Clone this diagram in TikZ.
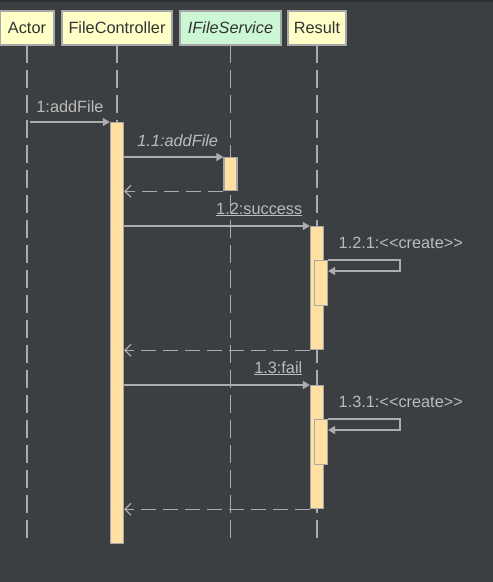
\documentclass[tikz,border=0pt]{standalone}
\usepackage{fontspec}
\setmainfont{Liberation Sans}
\usetikzlibrary{arrows.meta, positioning}
\definecolor{bgdark}{RGB}{60,63,65}
\definecolor{topband}{RGB}{47,49,52}
\definecolor{headfill}{RGB}{255,255,200}
\definecolor{ifacefill}{RGB}{204,247,213}
\definecolor{actfill}{RGB}{255,223,162}
\definecolor{edgegray}{RGB}{168,168,168}
\definecolor{linegray}{RGB}{172,172,172}
\definecolor{textgray}{RGB}{187,187,187}
\tikzstyle{seqdiag}=[x=1pt, y=-1pt, font=\fontsize{16.3}{19}\selectfont]
\tikzstyle{head}=[draw=edgegray, line width=1.2pt, fill=headfill, text=black!80, minimum height=34pt, inner xsep=0pt, outer sep=0pt]
\tikzstyle{lifeline}=[draw=linegray, line width=1.3pt, dash pattern=on 18pt off 7pt]
\tikzstyle{act}=[draw=edgegray, line width=1.2pt, fill=actfill, minimum width=13pt, inner sep=0pt]
\tikzstyle{msg}=[draw=linegray, line width=1.2pt, -{Triangle[length=7pt,width=8pt]}]
\tikzstyle{reply}=[draw=linegray, line width=1.2pt, dash pattern=on 15pt off 7pt, -{Straight Barb[length=6pt,width=12pt]}]
\tikzstyle{lbl}=[text=textgray, inner sep=0pt]

\begin{document}
\begin{tikzpicture}[seqdiag]
  \fill[bgdark] (0,0) rectangle (493,582);
  \fill[topband] (0,0) rectangle (493,2);
  \useasboundingbox (0,0) rectangle (493,582);
  \coordinate (bottom) at (0,545);
  % heads and lifelines
  \node[head, minimum width=54pt] (actor) at (27,28) {Actor};
  \node[head, minimum width=110pt] (ctrl) [right=8pt of actor] {FileController};
  \node[head, minimum width=101pt, fill=ifacefill] (svc) [right=8pt of ctrl] {\itshape IFileService};
  \node[head, minimum width=58pt] (res) [right=7pt of svc] {Result};
  \foreach \p in {actor, ctrl, svc, res}
    \draw[lifeline] (\p.south) -- (\p.south |- bottom);
  % activations
  \node[act, anchor=north, minimum height=421pt] (ctrlact) at (ctrl.south |- 0,122) {};
  \node[act, anchor=north, minimum height=33pt] (svcact) at (svc.south |- 0,157) {};
  \node[act, anchor=north, minimum height=123pt] (resact1) at (res.south |- 0,226) {};
  \node[act, anchor=north, minimum height=123pt] (resact2) at (res.south |- 0,385) {};
  \node[act, anchor=north west, xshift=4pt, minimum height=45pt] (sub1) at (resact1.west |- 0,260) {};
  \node[act, anchor=north west, xshift=4pt, minimum height=45pt] (sub2) at (resact2.west |- 0,419) {};
  \coordinate (loop1) at (400,271);
  \coordinate (loop2) at (400,430);
  % messages
  \draw[msg] ([xshift=3pt]actor.south |- ctrlact.north) -- node[lbl, anchor=base, yshift=10pt] {1:addFile} (ctrlact.north west);
  \draw[msg] (ctrlact.east |- svcact.north) -- node[lbl, anchor=base, xshift=4pt, yshift=11pt] {\itshape 1.1:addFile} (svcact.north west);
  \draw[reply] (svcact.south west) -- (ctrlact.east |- svcact.south west);
  \draw[msg] (ctrlact.east |- resact1.north) -- node[lbl, pos=1, anchor=base east, xshift=-7pt, yshift=12pt] {\underline{1.2:success}} (resact1.north west);
  \draw[msg] (sub1.north east) node[lbl, anchor=base west, xshift=10pt, yshift=12pt] {1.2.1:<{}<create>{}>} -| (loop1) -- (loop1 -| sub1.east);
  \draw[reply] (resact1.south west) -- (ctrlact.east |- resact1.south west);
  \draw[msg] (ctrlact.east |- resact2.north) -- node[lbl, pos=1, anchor=base east, xshift=-7pt, yshift=12pt] {\underline{1.3:fail}} (resact2.north west);
  \draw[msg] (sub2.north east) node[lbl, anchor=base west, xshift=10pt, yshift=12pt] {1.3.1:<{}<create>{}>} -| (loop2) -- (loop2 -| sub2.east);
  \draw[reply] (resact2.south west) -- (ctrlact.east |- resact2.south west);
\end{tikzpicture}
\end{document}
